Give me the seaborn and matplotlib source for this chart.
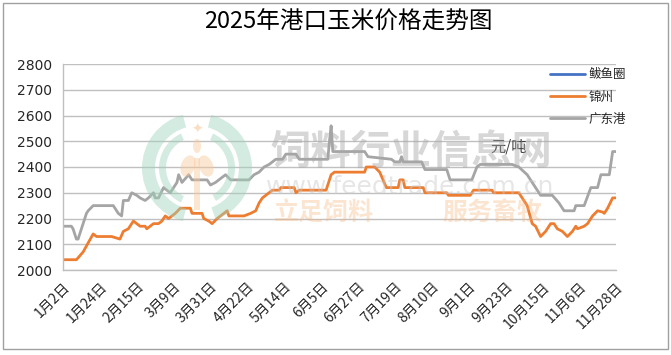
import matplotlib
matplotlib.use("Agg")
import matplotlib.pyplot as plt
import seaborn as sns
import pandas as pd
from matplotlib.patches import Wedge, Rectangle, Ellipse
from matplotlib.lines import Line2D

# ---------------- data (days counted from 1月2日) ----------------
title = "2025年港口玉米价格走势图"
series_names = ["鲅鱼圈", "锦州", "广东港"]
tick_days = [0, 22, 44, 66, 88, 110, 132, 154, 176, 198, 220, 242, 264, 286, 308, 330]
tick_labels = ["1月2日", "1月24日", "2月15日", "3月9日", "3月31日", "4月22日", "5月14日",
               "6月5日", "6月27日", "7月19日", "8月10日", "9月1日", "9月23日",
               "10月15日", "11月6日", "11月28日"]

byq_day = []
byq_val = []

jz_day = [0, 8, 12, 18, 20, 29, 34, 36, 39, 42, 46, 49, 50, 54, 57, 59, 61, 63, 65, 67,
          70, 76, 77, 83, 84, 87, 89, 92, 96, 98, 99, 108, 112, 115, 117, 119, 123, 125,
          129, 130, 138, 139, 141, 157, 160, 162, 180, 181, 186, 189, 191, 193, 200, 201,
          203, 204, 215, 216, 229, 230, 243, 245, 256, 257, 272, 277, 280, 282, 285, 288,
          291, 293, 295, 298, 301, 304, 306, 307, 311, 313, 316, 319, 322, 323, 325, 328, 330]
jz_val = [2040, 2040, 2070, 2140, 2130, 2130, 2120, 2150, 2160, 2190, 2170, 2170, 2160, 2180,
          2180, 2190, 2210, 2200, 2210, 2220, 2240, 2240, 2220, 2220, 2200, 2190, 2180, 2200,
          2220, 2230, 2210, 2210, 2220, 2230, 2260, 2280, 2300, 2310, 2310, 2320, 2320, 2300,
          2310, 2310, 2370, 2380, 2380, 2400, 2400, 2380, 2350, 2320, 2320, 2350, 2350, 2320,
          2320, 2300, 2300, 2290, 2290, 2310, 2310, 2300, 2300, 2250, 2180, 2170, 2130, 2150,
          2180, 2180, 2160, 2150, 2130, 2150, 2170, 2160, 2170, 2180, 2210, 2230, 2225, 2220,
          2240, 2280, 2280]

gd_day = [0, 5, 6, 8, 9, 12, 14, 15, 18, 30, 33, 35, 36, 39, 41, 44, 46, 49, 51, 54, 55, 57,
          60, 62, 64, 66, 68, 69, 71, 75, 77, 86, 88, 91, 97, 100, 111, 114, 117, 120, 123,
          125, 127, 131, 133, 139, 141, 158, 159, 160, 161, 180, 182, 196, 198, 201, 202, 203,
          214, 216, 229, 231, 244, 247, 249, 268, 272, 277, 280, 285, 292, 296, 299, 305, 306,
          311, 315, 319, 321, 326, 328, 330]
gd_val = [2170, 2170, 2160, 2120, 2120, 2180, 2220, 2230, 2250, 2250, 2220, 2210, 2270, 2270,
          2300, 2290, 2280, 2270, 2280, 2300, 2280, 2280, 2320, 2310, 2300, 2320, 2340, 2370,
          2340, 2370, 2350, 2350, 2330, 2340, 2370, 2350, 2350, 2370, 2380, 2400, 2410, 2420,
          2430, 2430, 2450, 2450, 2430, 2430, 2500, 2560, 2460, 2460, 2440, 2430, 2420, 2420,
          2440, 2420, 2420, 2390, 2390, 2350, 2350, 2400, 2410, 2410, 2400, 2370, 2340, 2290,
          2290, 2260, 2230, 2230, 2250, 2250, 2320, 2320, 2370, 2370, 2460, 2460]

colors = {"鲅鱼圈": "#4472C4", "锦州": "#ED7D31", "广东港": "#A5A5A5"}

# ---------------- styling ----------------
sns.set_theme(style="white")
plt.rcParams["font.family"] = ["Noto Sans CJK SC", "DejaVu Sans"]

df = pd.concat([
    pd.DataFrame({"day": jz_day, "price": jz_val, "series": "锦州"}),
    pd.DataFrame({"day": gd_day, "price": gd_val, "series": "广东港"}),
], ignore_index=True)

fig = plt.figure(figsize=(6.71, 3.55), dpi=100)
fig.patch.set_facecolor("white")
ax = fig.add_axes([63 / 671, 1 - 270 / 355, (616 - 63) / 671, (270 - 64) / 355])

sns.lineplot(data=df, x="day", y="price", hue="series", hue_order=["锦州", "广东港"],
             palette=colors, estimator=None, sort=False, linewidth=2.0, legend=False, ax=ax)

ax.set_xlim(0, 330)
ax.set_ylim(2000, 2800)
ax.set_yticks(range(2000, 2801, 100))
ax.set_xticks(tick_days)
ax.set_xticklabels(tick_labels, rotation=45, ha="right", va="top", rotation_mode="anchor",
                   fontsize=10, color="#262626")
for lab in ax.get_yticklabels():
    lab.set_fontfamily("DejaVu Sans")
    lab.set_fontsize(10)
    lab.set_color("#262626")
ax.set_xlabel("")
ax.set_ylabel("")
ax.grid(axis="y", color="#C0C0C0", linewidth=1.0)
ax.grid(axis="x", visible=False)
ax.set_axisbelow(True)
for s in ["top", "right"]:
    ax.spines[s].set_visible(False)
for s in ["left", "bottom"]:
    ax.spines[s].set_color("#BFBFBF")
    ax.spines[s].set_linewidth(1.0)
ax.tick_params(axis="both", direction="out", length=5, width=1, color="#BFBFBF", pad=3)
ax.tick_params(axis="x", pad=2)
ax.patch.set_alpha(0)

# legend
handles = [Line2D([], [], color=colors[n], linewidth=2.0) for n in series_names]
fig.legend(handles, series_names, loc="upper left", bbox_to_anchor=(550 / 671, 1 - 68 / 355),
           frameon=False, fontsize=9, handlelength=2.8, handletextpad=0.3,
           labelspacing=0.75, borderaxespad=0, borderpad=0)

# title and unit
fig.text(348 / 671, 1 - 22 / 355, title, ha="center", va="center", fontsize=17, color="black")
fig.text(490 / 671, 1 - 147 / 355, "元/吨", ha="left", va="center", fontsize=11, color="#404040")

# ---------------- watermark & border overlay (pixel coordinates) ----------------
ov = fig.add_axes([0, 0, 1, 1], zorder=5)
ov.set_xlim(0, 671)
ov.set_ylim(355, 0)
ov.axis("off")
ov.patch.set_alpha(0)

cx, cy = 197, 168
green = "#9fd3bb"
ov.add_patch(Wedge((cx, cy), 55, 105, 255, width=13, facecolor=green, alpha=0.45, lw=0))
ov.add_patch(Wedge((cx, cy), 38, 115, 245, width=7, facecolor=green, alpha=0.45, lw=0))
ov.add_patch(Wedge((cx, cy), 55, -75, 70, width=13, facecolor=green, alpha=0.45, lw=0))
ov.add_patch(Wedge((cx, cy), 38, -65, 60, width=7, facecolor=green, alpha=0.45, lw=0))
peach = "#f8c89a"
ov.add_patch(Rectangle((cx - 3, cy - 10), 6, 52, facecolor=peach, alpha=0.45, lw=0))
ov.add_patch(Ellipse((cx - 9, cy - 2), 14, 22, angle=20, facecolor=peach, alpha=0.45, lw=0))
ov.add_patch(Ellipse((cx + 9, cy - 2), 14, 22, angle=-20, facecolor=peach, alpha=0.45, lw=0))
ov.add_patch(Ellipse((cx, cy - 22), 8, 14, facecolor=peach, alpha=0.45, lw=0))
ov.text(cx, cy - 38, "✦", ha="center", va="center", fontsize=10, color=peach, alpha=0.6,
        family="DejaVu Sans")

ov.text(411, 152, "饲料行业信息网", ha="center", va="center", fontsize=29, fontweight="bold",
        color="#a8a8a8", alpha=0.45)
ov.text(410, 187, "www.feedtrade.com.cn", ha="center", va="center", fontsize=18,
        color="#c8c8c8", alpha=0.45, family="DejaVu Sans")
ov.text(324, 213, "立足饲料", ha="center", va="center", fontsize=18, fontweight="bold",
        color="#f5b47a", alpha=0.35)
ov.text(492, 213, "服务畜牧", ha="center", va="center", fontsize=18, fontweight="bold",
        color="#f5b47a", alpha=0.35)

ov.add_patch(Rectangle((3, 3), 665, 346, fill=False, edgecolor="#A0A0A0", lw=1.0))

fig.savefig("out.png", dpi=100, facecolor="white")
